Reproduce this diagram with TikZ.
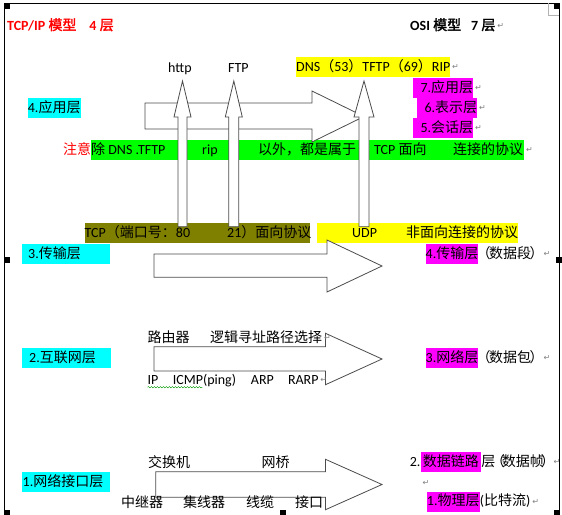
\documentclass[tikz,border=0pt]{standalone}
\usepackage{fontspec}
\setmainfont{Carlito}
\newfontfamily\cjk{Noto Sans CJK SC}[AutoFakeBold=2]
\newfontfamily\retfont{DejaVu Sans}
\newcommand{\zh}[1]{{\cjk #1}}
\newcommand{\lpar}{\kern-2pt\zh{（}\kern-1.5pt}
\newcommand{\rpar}{\kern-1.5pt\zh{）}\kern-2pt}
\usetikzlibrary{decorations.pathmorphing}
\definecolor{hlcyan}{RGB}{0,255,255}
\definecolor{hlmag}{RGB}{255,0,255}
\definecolor{hlgreen}{RGB}{0,255,0}
\definecolor{hlyellow}{RGB}{255,255,0}
\definecolor{hlolive}{RGB}{128,128,0}
\definecolor{hlred}{RGB}{255,0,0}

\tikzset{
  txt/.style={inner sep=0pt, anchor=west, text height=11pt, text depth=3pt, font=\fontsize{14pt}{16pt}\selectfont},
  hl/.style={txt, fill=#1, minimum height=20pt},
  bar/.style={fill=#1, inner sep=0pt, anchor=west, minimum height=20pt},
  blockarrow/.style={draw=black!70, line width=0.8pt, fill=white, line join=miter},
  ret/.style={inner sep=0pt, anchor=west, xshift=1.5pt, text=gray, font=\retfont\fontsize{8pt}{8pt}\selectfont},
}

\begin{document}
\begin{tikzpicture}[x=1pt, y=-1pt]
    \useasboundingbox (0,0) rectangle (562,514);
    \draw[line width=0.8pt] (4,514) -- (4,3) -- (559,3) -- (559,514);
    \draw[gray!60] (548.5,3) -- (548.5,15) -- (559,15);
    \foreach \hx/\hy in {4/3, 554/3, 4/257, 556/257, 4/510, 280/510, 554/510}
        \fill (\hx,\hy) rectangle ++(6,6);

    % titles
    \node[txt, text=hlred, font=\fontsize{14pt}{16pt}\selectfont\bfseries] (tcpip) at (7,26) {TCP/IP \zh{模型}\hspace{13pt}4 \zh{层}};
    \node[txt, font=\fontsize{14pt}{16pt}\selectfont\bfseries] (osi) at (410,26) {OSI \zh{模型}\hspace{10pt}7 \zh{层}};
    \node[ret] (osir) at (osi.east) {↵};

    % application layer
    \node[txt] (http) at (168,68) {http};
    \node[txt] (ftp) at (228,68) {FTP};
    \node[hl=hlyellow] (dns) at (296,67) {DNS\zh{（}53\zh{）}TFTP\zh{（}69\zh{）}RIP};
    \node[ret] (dnsr) at (dns.east) {↵};
    \node[hl=hlmag, text width=60pt, align=right] (osi7) at (413,88) {7.\zh{应用层}};
    \node[hl=hlmag, text width=60pt, align=right] (osi6) at (417,108) {6.\zh{表示层}};
    \node[hl=hlmag, text width=60pt, align=right] (osi5) at (413,128) {5.\zh{会话层}};
    \node[ret] (osi7r) at (osi7.east) {↵};
    \node[ret] (osi6r) at (osi6.east) {↵};
    \node[ret] (osi5r) at (osi5.east) {↵};
    \node[hl=hlcyan] (app) at (27.7,108) {4.\zh{应用层}};

    \node[bar=hlgreen, minimum width=433pt] (note) at (91,149.5) {};
    \node[ret] (noter) at (note.east) {↵};
    \node[txt, text=hlred] (notered) at (63,150) {\zh{注意}};
    \node[txt] (n1) at (91,150) {\zh{除} DNS .TFTP};
    \node[txt] (n2) at (202,150) {rip};
    \node[txt] (n3) at (258,150) {\zh{以外，都是属于}};
    \node[txt] (n4) at (374,150) {TCP \zh{面向}};
    \node[txt] (n5) at (453,150) {\zh{连接的协议}};

    \draw[blockarrow] (145,103) -- (312,103) -- (312,91) -- (364,116.5) -- (312,142) -- (312,129) -- (145,129) -- cycle;

    % transport layer
    \node[bar=hlolive, minimum width=225.5pt] (tcpbar) at (84.5,233) {};
    \node[txt] (tcp1) at (84.5,233) {TCP\zh{（端口号：}80};
    \node[txt] (tcp2) at (227,233) {21\zh{）面向协议}};
    \node[bar=hlyellow, minimum width=201pt] (udpbar) at (317,233) {};
    \node[txt] (udp1) at (352,233) {UDP};
    \node[txt] (udp2) at (406,233) {\zh{非面向连接的协议}};

    \foreach \ax/\hw/\sw in {182.5/8.5/4.5, 233.8/8.5/5, 364/10/5}
        \draw[blockarrow] (\ax-\sw,226.7) -- (\ax-\sw,117) -- (\ax-\hw,117) -- (\ax,81) -- (\ax+\hw,117) -- (\ax+\sw,117) -- (\ax+\sw,226.7) -- cycle;

    \node[hl=hlcyan, text width=75.4pt, inner xsep=6.4pt, align=left] (tl3) at (21.6,254) {3.\zh{传输层}};
    \node[hl=hlmag] (osi4) at (425.5,254) {4.\zh{传输层}};
    \node[txt] (osi4x) at (osi4.east) {\lpar\zh{数据段}\rpar};
    \node[ret] (osi4r) at (osi4x.east) {↵};
    \draw[blockarrow] (154,254) -- (327,254) -- (327,240) -- (382,266) -- (327,292) -- (327,277.3) -- (154,277.3) -- cycle;

    % internet layer
    \draw[blockarrow] (154,346.7) -- (325.5,346.7) -- (325.5,333.3) -- (382,359) -- (325.5,384.7) -- (325.5,371) -- (154,371) -- cycle;
    \node[txt] (router) at (147.5,338) {\zh{路由器}};
    \node[txt] (routing) at (210,338) {\zh{逻辑寻址路径选择}};
    \node[ret] (routingr) at (routing.east) {↵};
    \node[txt] (ip) at (147.5,380) {IP};
    \node[txt] (icmp) at (172.7,380) {ICMP(ping)};
    \node[txt] (arp) at (250.7,380) {ARP};
    \node[txt] (rarp) at (287.8,380) {RARP};
    \node[ret] (rarpr) at (rarp.east) {↵};
    \draw[green!60!black, decorate, decoration={snake, amplitude=0.7pt, segment length=3pt}] (ip.south west) -- ([xshift=30pt]icmp.south west);
    \node[hl=hlcyan, text width=74.4pt, inner xsep=7.4pt, align=left] (tl2) at (21.6,358) {2.\zh{互联网层}};
    \node[hl=hlmag] (osi3) at (425.5,358) {3.\zh{网络层}};
    \node[txt] (osi3x) at (osi3.east) {\lpar\zh{数据包}\rpar};
    \node[ret] (osi3r) at (osi3x.east) {↵};

    % network interface layer
    \draw[blockarrow] (155.8,471.7) -- (325.5,471.7) -- (325.5,459.3) -- (382,484.5) -- (325.5,509.7) -- (325.5,497.3) -- (155.8,497.3) -- cycle;
    \node[txt] (switch) at (148,463) {\zh{交换机}};
    \node[txt] (bridge) at (261.5,463) {\zh{网桥}};
    \node[txt] (repeater) at (121,503) {\zh{中继器}};
    \node[txt] (hub) at (183,503) {\zh{集线器}};
    \node[txt] (cable) at (246,503) {\zh{线缆}};
    \node[txt] (port) at (295,503) {\zh{接口}};
    \node[hl=hlcyan, text width=87pt, inner xsep=0.5pt, align=left] (tl1) at (22,482) {1.\zh{网络接口层}};
    \node[hl=hlmag, inner xsep=2pt] (dl) at (420.7,462) {\zh{数据链路}};
    \node[txt, anchor=east] (dl2) at (dl.west) {2.};
    \node[txt] (dlx) at (dl.east) {\zh{层}\kern-4.5pt\zh{（}\kern-3pt\zh{数据帧}\kern-3pt\zh{）}\kern-2pt};
    \node[ret, xshift=-1pt] (dlr) at (dlx.east) {↵};
    \node[ret] (blank) at (421,483) {↵};
    \node[hl=hlmag] (phy) at (426.7,501.5) {1.\zh{物理层}};
    \node[txt] (phyx) at (phy.east) {(\zh{比特流})};
    \node[ret] (phyr) at (phyx.east) {↵};
\end{tikzpicture}
\end{document}
